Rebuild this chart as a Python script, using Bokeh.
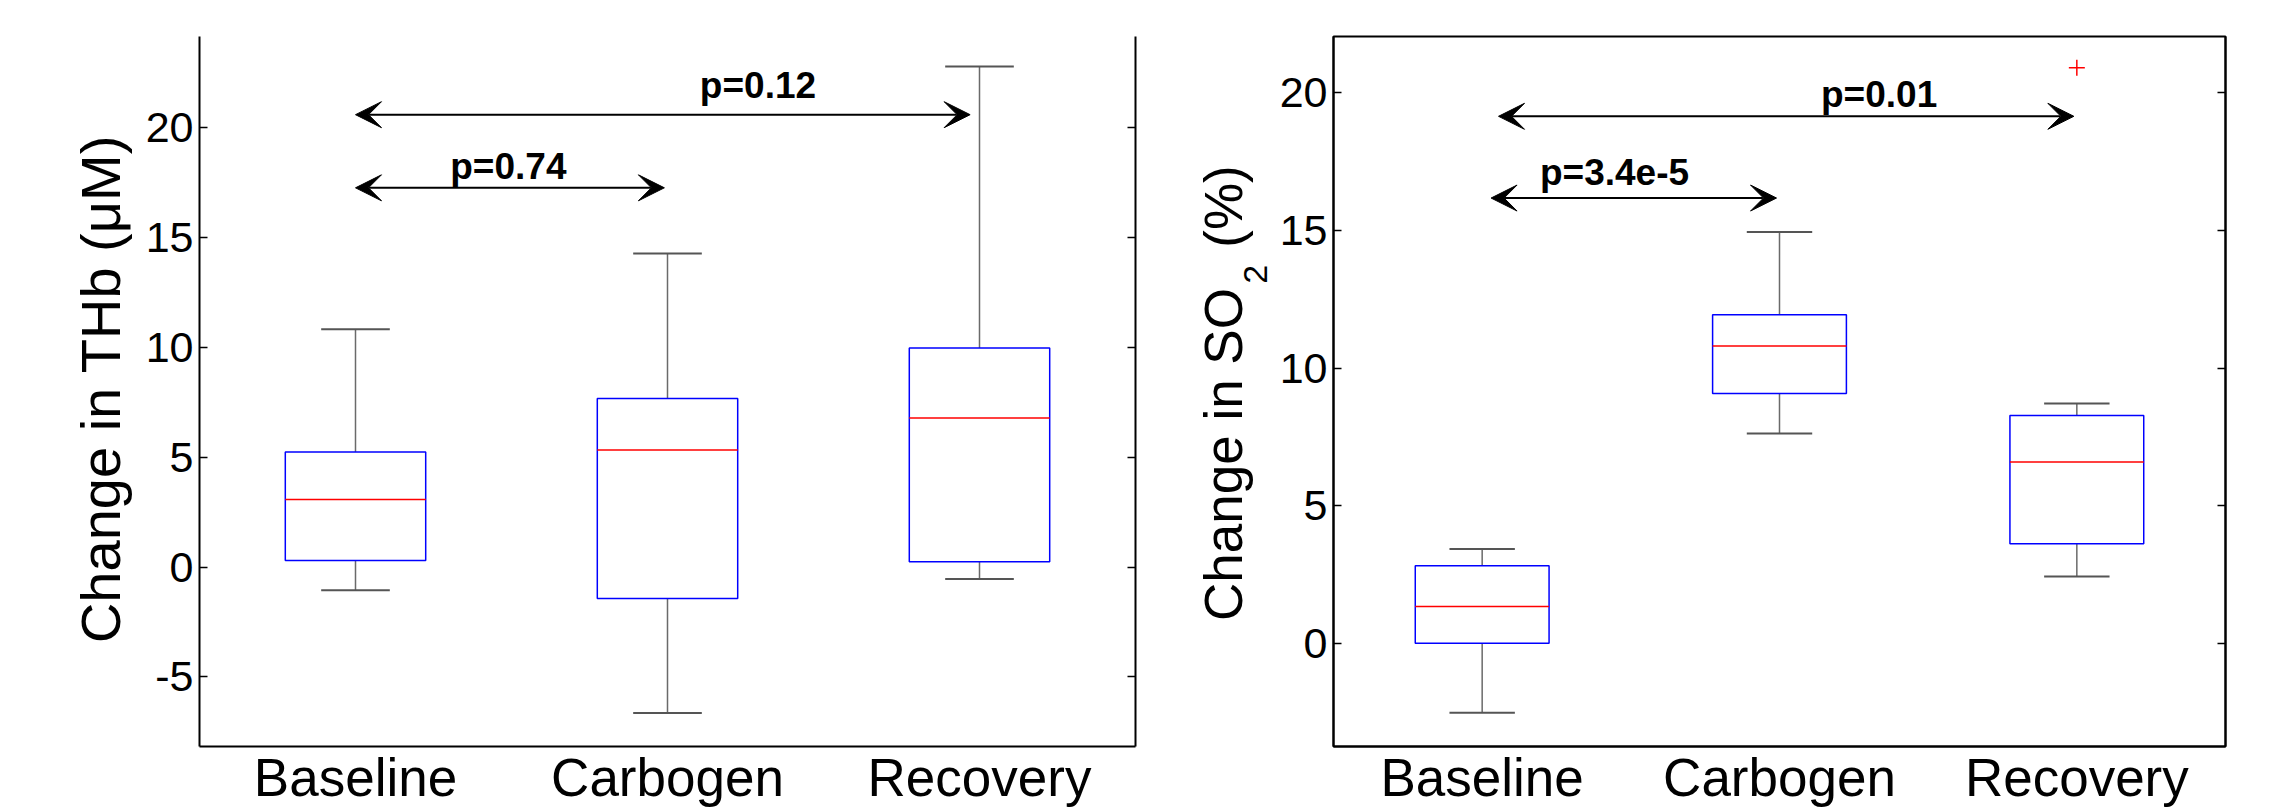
import numpy as np
from math import pi
from bokeh.plotting import figure
from bokeh.layouts import row
from bokeh.models import (ColumnDataSource, FixedTicker, LinearAxis, Range1d,
                          Arrow, VeeHead)
from bokeh.core.properties import value
from bokeh.embed import file_html
from bokeh.resources import INLINE

# ---------------- data ----------------
groups = ["Baseline", "Carbogen", "Recovery"]
positions = [1, 2, 3]

# Change in THb (uM)
thb_lower = [-1.06, -6.65, -0.54]
thb_q1 = [0.30, -1.43, 0.24]
thb_median = [3.08, 5.33, 6.79]
thb_q3 = [5.24, 7.68, 9.98]
thb_upper = [10.83, 14.28, 22.79]
thb_ticks = [-5, 0, 5, 10, 15, 20]

# Change in SO2 (%)
so2_lower = [-2.52, 7.62, 2.43]
so2_q1 = [0.0, 9.08, 3.62]
so2_median = [1.34, 10.80, 6.59]
so2_q3 = [2.82, 11.94, 8.28]
so2_upper = [3.43, 14.95, 8.71]
so2_outlier_pos = [3]
so2_outlier_val = [20.91]
so2_ticks = [0, 5, 10, 15, 20]

# significance annotations
thb_ptext = ["p=0.74", "p=0.12"]
thb_arrow_from = [1.0, 1.0]
thb_arrow_to = [1.99, 2.97]
thb_arrow_level = [17.27, 20.6]
thb_text_x = [1.49, 2.29]
thb_text_level = [18.24, 21.92]

so2_ptext = ["p=3.4e-5", "p=0.01"]
so2_arrow_from = [1.03, 1.055]
so2_arrow_to = [1.99, 2.99]
so2_arrow_level = [16.18, 19.15]
so2_text_x = [1.445, 2.335]
so2_text_level = [17.1, 19.93]

FONT = "Liberation Sans"
BOX_W = 0.45
CAP_W = 0.22


def blank_fig(width):
    f = figure(width=width, height=810, x_range=Range1d(0, width), y_range=Range1d(0, 810),
               output_backend="svg", toolbar_location=None, title=None,
               x_axis_type=None, y_axis_type=None,
               min_border_left=0, min_border_right=0, min_border_top=0, min_border_bottom=0)
    f.xgrid.visible = False
    f.ygrid.visible = False
    f.outline_line_color = None
    f.background_fill_color = "white"
    f.border_fill_color = "white"
    return f


def make_panel(width, mbl, mbr, mbt, mbb, ylim, ticks, lower, q1, med, q3, upper, outline):
    p = figure(width=width, height=810, x_range=Range1d(0.5, 3.5), y_range=Range1d(*ylim),
               output_backend="svg", toolbar_location=None, title=None,
               min_border_left=mbl, min_border_right=mbr, min_border_top=mbt,
               min_border_bottom=mbb)
    p.xgrid.visible = False
    p.ygrid.visible = False
    p.background_fill_color = "white"
    p.border_fill_color = "white"
    if outline:
        p.outline_line_color = "black"
        p.outline_line_width = 2
    else:
        p.outline_line_color = None

    pos = np.array(positions, dtype=float)
    src = ColumnDataSource(dict(
        x=pos, left=pos - BOX_W / 2, right=pos + BOX_W / 2,
        cl=pos - CAP_W / 2, cr=pos + CAP_W / 2,
        lower=lower, q1=q1, med=med, q3=q3, upper=upper))
    wc = "#6a6a6a"
    p.segment(x0="x", x1="x", y0="q3", y1="upper", source=src, line_color=wc, line_width=1.5)
    p.segment(x0="x", x1="x", y0="q1", y1="lower", source=src, line_color=wc, line_width=1.5)
    p.segment(x0="cl", x1="cr", y0="upper", y1="upper", source=src, line_color="#555555", line_width=2)
    p.segment(x0="cl", x1="cr", y0="lower", y1="lower", source=src, line_color="#555555", line_width=2)
    p.quad(left="left", right="right", bottom="q1", top="q3", source=src,
           fill_color=None, line_color="#0000ff", line_width=1.5)
    p.segment(x0="left", x1="right", y0="med", y1="med", source=src,
              line_color="#ff0000", line_width=1.5)

    # axes
    xa = p.xaxis[0]
    xa.ticker = FixedTicker(ticks=positions)
    xa.major_label_overrides = {k: g for k, g in zip(positions, groups)}
    xa.major_tick_in = 0
    xa.major_tick_out = 0
    xa.minor_tick_line_color = None
    xa.major_label_text_font = FONT
    xa.major_label_text_font_size = "53px"
    xa.major_label_text_color = "black"
    xa.major_label_standoff = 1
    xa.axis_line_width = 2
    xa.axis_line_color = "black"

    ya = p.yaxis[0]
    ya.ticker = FixedTicker(ticks=ticks)
    ya.major_label_overrides = {t: str(t) for t in ticks}
    ya.major_tick_in = 8
    ya.major_tick_out = 0
    ya.major_tick_line_width = 1.5
    ya.minor_tick_line_color = None
    ya.major_label_text_font = FONT
    ya.major_label_text_font_size = "43px"
    ya.major_label_text_color = "black"
    ya.major_label_standoff = 6
    ya.axis_line_width = 2
    ya.axis_line_color = "black"

    ra = LinearAxis(ticker=FixedTicker(ticks=ticks))
    ra.major_tick_in = 8
    ra.major_tick_out = 0
    ra.major_tick_line_width = 1.5
    ra.minor_tick_line_color = None
    ra.major_label_text_font_size = "8px"
    ra.major_label_text_color = None
    ra.major_label_standoff = 0
    ra.axis_line_width = 2
    ra.axis_line_color = "black"
    p.add_layout(ra, "right")
    return p


def add_annotations(p, x0, x1, ylev, tx, ty, texts):
    asrc = ColumnDataSource(dict(x0=x0, x1=x1, y=ylev))
    p.add_layout(Arrow(
        start=VeeHead(size=26, fill_color="black", line_color="black", line_width=1),
        end=VeeHead(size=26, fill_color="black", line_color="black", line_width=1),
        x_start="x0", y_start="y", x_end="x1", y_end="y", source=asrc,
        line_color="black", line_width=2))
    tsrc = ColumnDataSource(dict(x=tx, y=ty, t=texts))
    p.text(x="x", y="y", text="t", source=tsrc, text_align="center",
           text_baseline="middle", text_font=value(FONT), text_font_style="bold",
           text_font_size="37px", text_color="black")


# ---------------- left y-axis title ----------------
lab1 = blank_fig(140)
lab1.text(x=[100], y=[408], text=["Change in THb (μM)"], angle=pi / 2,
          text_align="center", text_baseline="middle", text_font=value(FONT),
          text_font_size="56px", text_color="black")

# ---------------- left panel ----------------
p1 = make_panel(1037, 59, 42, 36, 60, (-8.17, 24.16), thb_ticks,
                thb_lower, thb_q1, thb_median, thb_q3, thb_upper, outline=False)
add_annotations(p1, thb_arrow_from, thb_arrow_to, thb_arrow_level,
                thb_text_x, thb_text_level, thb_ptext)

# ---------------- right y-axis title (with subscript) ----------------
lab2 = blank_fig(99)
lab2.text(x=[45.5], y=[523], text=["Change in SO"], angle=pi / 2,
          text_align="right", text_baseline="middle", text_font=value(FONT),
          text_font_size="53px", text_color="black")
lab2.text(x=[78], y=[528], text=["2"], angle=pi / 2,
          text_align="left", text_baseline="middle", text_font=value(FONT),
          text_font_size="34px", text_color="black")
lab2.text(x=[45.5], y=[569], text=["(%)"], angle=pi / 2,
          text_align="left", text_baseline="middle", text_font=value(FONT),
          text_font_size="53px", text_color="black")

# ---------------- right panel ----------------
p2 = make_panel(1002, 56, 53, 30, 64, (-3.75, 22.05), so2_ticks,
                so2_lower, so2_q1, so2_median, so2_q3, so2_upper, outline=True)
p2.scatter(x=so2_outlier_pos, y=so2_outlier_val, marker="cross", size=16,
           line_color="#ff0000", line_width=1.5)
add_annotations(p2, so2_arrow_from, so2_arrow_to, so2_arrow_level,
                so2_text_x, so2_text_level, so2_ptext)

layout = row(lab1, p1, lab2, p2)
open("out.html", "w").write(file_html(layout, INLINE))
